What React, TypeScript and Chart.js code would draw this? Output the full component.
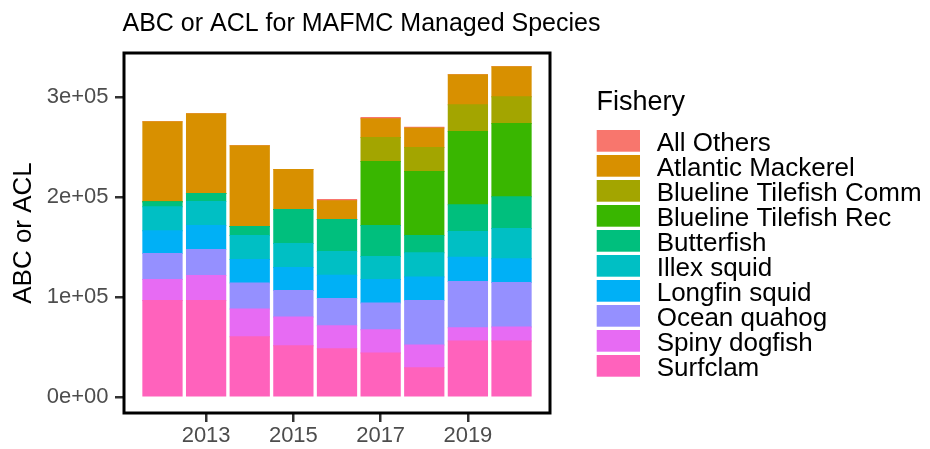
import React, { useEffect, useRef } from 'react';
import { Chart, registerables } from 'chart.js';

Chart.register(...registerables);

const FONT = '"Liberation Sans", Arial, Helvetica, sans-serif';

const years = [2012, 2013, 2014, 2015, 2016, 2017, 2018, 2019, 2020];
const xTickValues = [2013, 2015, 2017, 2019];
const yTickValues = [0, 100000, 200000, 300000];

// legend order (top of stack first)
const fisheries = [
  'All Others',
  'Atlantic Mackerel',
  'Blueline Tilefish Comm',
  'Blueline Tilefish Rec',
  'Butterfish',
  'Illex squid',
  'Longfin squid',
  'Ocean quahog',
  'Spiny dogfish',
  'Surfclam',
];
const colors = [
  '#F8766D',
  '#D89000',
  '#A3A500',
  '#39B600',
  '#00BF7D',
  '#00BFC4',
  '#00B0F6',
  '#9590FF',
  '#E76BF3',
  '#FF62BC',
];

const allOthers = [0, 0, 0, 0, 1300, 1300, 800, 0, 0];
const atlanticMackerel = [80000, 79700, 80700, 40000, 18700, 18700, 19400, 30000, 30000];
const bluelineComm = [0, 0, 0, 0, 0, 24000, 24000, 26700, 26700];
const bluelineRec = [0, 0, 0, 0, 0, 64000, 64000, 73300, 73300];
const butterfish = [5000, 8000, 9000, 34000, 32000, 31000, 17300, 26700, 31700];
const illexSquid = [24000, 24000, 24000, 24000, 23600, 23000, 24000, 25600, 30300];
const longfinSquid = [22700, 24000, 23300, 23000, 23400, 23300, 23700, 24400, 23700];
const oceanQuahog = [26000, 26000, 26000, 26300, 27000, 26700, 44300, 46000, 44300];
const spinyDogfish = [21000, 25000, 27700, 28700, 23000, 23300, 22700, 13300, 14000];
const surfclam = [96600, 96600, 60600, 51600, 48600, 44300, 29600, 56300, 56300];

const seriesValues = [
  allOthers,
  atlanticMackerel,
  bluelineComm,
  bluelineRec,
  butterfish,
  illexSquid,
  longfinSquid,
  oceanQuahog,
  spinyDogfish,
  surfclam,
];

function sci(v: number): string {
  if (v === 0) return '0e+00';
  const e = Math.floor(Math.log10(Math.abs(v)));
  const m = Math.round((v / Math.pow(10, e)) * 100) / 100;
  return `${m}e${e >= 0 ? '+' : '-'}${String(Math.abs(e)).padStart(2, '0')}`;
}

const decorPlugin = {
  id: 'decor',
  afterDatasetsDraw(chart: any) {
    const { ctx, chartArea } = chart;
    ctx.save();
    ctx.strokeStyle = '#000000';
    ctx.lineWidth = 3;
    ctx.strokeRect(chartArea.left, chartArea.top, chartArea.right - chartArea.left, chartArea.bottom - chartArea.top);
    ctx.restore();
  },
  afterDraw(chart: any) {
    const { ctx } = chart;
    ctx.save();
    ctx.fillStyle = '#000000';
    ctx.textAlign = 'left';
    ctx.textBaseline = 'alphabetic';
    ctx.font = `25px ${FONT}`;
    ctx.fillText('ABC or ACL for MAFMC Managed Species', 122.5, 30.7);

    ctx.font = `27px ${FONT}`;
    ctx.fillText('Fishery', 596.5, 110);

    ctx.font = `26px ${FONT}`;
    fisheries.forEach((name, i) => {
      const y0 = 130 + i * 25;
      ctx.fillStyle = colors[i];
      ctx.fillRect(596.7, y0, 43.3, 21.7);
      ctx.fillStyle = '#000000';
      ctx.fillText(name, 656.7, y0 + 20.7);
    });
    ctx.restore();
  },
};

export default function App() {
  const canvasRef = useRef<HTMLCanvasElement | null>(null);

  useEffect(() => {
    const canvas = canvasRef.current;
    if (!canvas) return;

    // stack from bottom (Surfclam) to top (All Others)
    const datasets = fisheries
      .map((name, i) => ({
        label: name,
        data: years.map((yr, j) => ({ x: yr, y: seriesValues[i][j] })),
        backgroundColor: colors[i],
        borderWidth: 0,
        inflateAmount: 0.5,
        categoryPercentage: 1,
        barPercentage: 0.9,
      }))
      .reverse();

    const chart = new Chart(canvas, {
      type: 'bar',
      data: { datasets },
      plugins: [decorPlugin],
      options: {
        animation: false,
        responsive: false,
        devicePixelRatio: 1,
        layout: { padding: { top: 53, right: 380, bottom: 0, left: 0 } },
        plugins: {
          legend: { display: false },
          title: { display: false },
          tooltip: { enabled: false },
        },
        scales: {
          x: {
            type: 'linear',
            stacked: true,
            offset: false,
            min: 2011.118,
            max: 2020.882,
            grid: {
              offset: false,
              drawOnChartArea: false,
              drawTicks: true,
              tickLength: 9,
              color: '#333333',
              lineWidth: 2.5,
            },
            border: { display: false },
            ticks: {
              font: { size: 22, family: FONT },
              color: '#4D4D4D',
              padding: 1,
              maxRotation: 0,
              autoSkip: false,
              callback: (v: any) => String(v),
            },
            afterBuildTicks: (s: any) => {
              s.ticks = xTickValues.map((v) => ({ value: v }));
            },
            afterFit: (s: any) => {
              s.height = 36;
            },
          },
          y: {
            type: 'linear',
            stacked: true,
            min: -15700,
            max: 344000,
            grid: {
              drawOnChartArea: false,
              drawTicks: true,
              tickLength: 9,
              color: '#333333',
              lineWidth: 2.5,
            },
            border: { display: false },
            ticks: {
              font: { size: 22, family: FONT },
              color: '#4D4D4D',
              padding: 6.5,
              callback: (v: any) => sci(Number(v)),
            },
            afterBuildTicks: (s: any) => {
              s.ticks = yTickValues.map((v) => ({ value: v }));
            },
            title: {
              display: true,
              text: 'ABC or ACL',
              color: '#000000',
              font: { size: 26, family: FONT },
              padding: { top: 8, bottom: 0 },
            },
            afterFit: (s: any) => {
              s.width = 124;
            },
          },
        },
      } as any,
    });

    return () => {
      chart.destroy();
    };
  }, []);

  return (
    <div style={{ position: 'absolute', left: 0, top: 0, width: 930, height: 449, background: '#ffffff' }}>
      <canvas ref={canvasRef} width={930} height={449} style={{ width: 930, height: 449, display: 'block' }} />
    </div>
  );
}
